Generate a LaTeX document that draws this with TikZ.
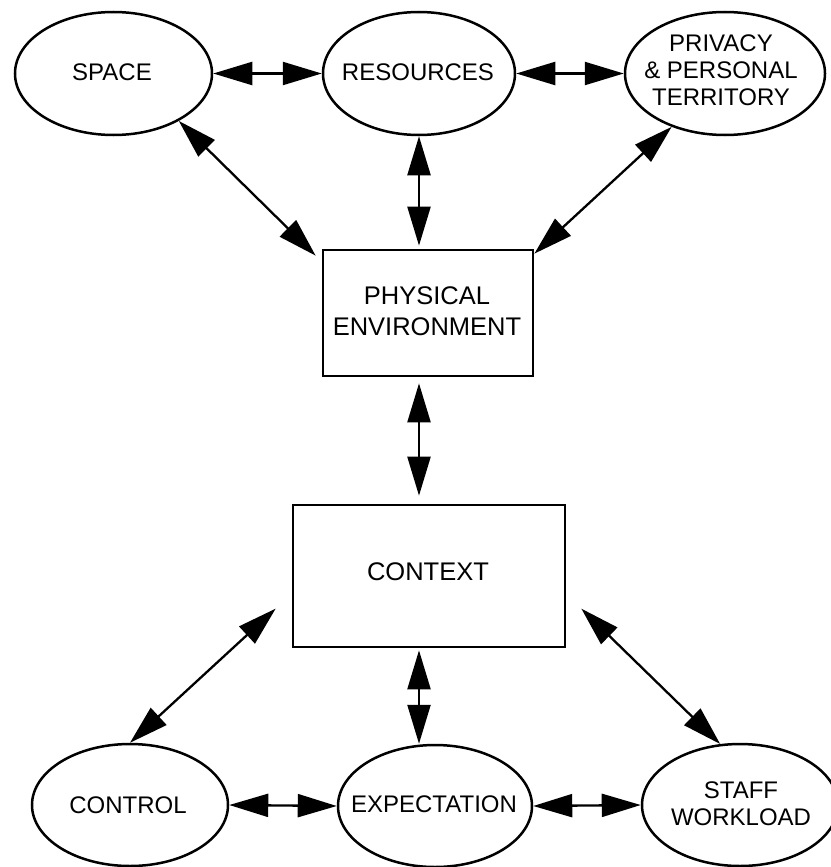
\documentclass[tikz,border=0pt]{standalone}
\usepackage{fontspec}
\setmainfont{Liberation Sans}
\usetikzlibrary{shapes.geometric,arrows.meta}
\begin{document}
\begin{tikzpicture}[x=1pt,y=-1pt,
 oval/.style={ellipse,draw,line width=2.5pt,inner sep=0pt,minimum width=#1,minimum height=123pt},
 box/.style={draw,line width=2.7pt,rectangle,inner sep=0pt},
 txt/.style={align=center,inner sep=0pt,font=\fontsize{24pt}{27pt}\selectfont},
 btxt/.style={align=center,inner sep=0pt,font=\fontsize{25.5pt}{31pt}\selectfont},
 link/.style={line width=2.3pt,{Triangle[length=39pt,width=23pt]}-{Triangle[length=39pt,width=23pt]}}]
\useasboundingbox[fill=white] (0,0) rectangle (830,867);
% top row
\node[oval=197pt] (space) at (113.5,73.5) {};
\node[txt] (spacet) at (112,72.5) {SPACE};
\node[oval=192pt] (res) at (419,73.5) {};
\node[txt] (rest) at (418,72.5) {RESOURCES};
\node[oval=200pt] (priv) at (725,73.5) {};
\node[txt] (privt) at (721,70) {PRIVACY\\\& PERSONAL\\TERRITORY};
% boxes
\node[box,minimum width=210pt,minimum height=126pt] (phys) at (428,313) {};
\node[btxt] (physt) at (427,311) {PHYSICAL\\ENVIRONMENT};
\node[box,minimum width=272pt,minimum height=142pt] (ctx) at (429,576) {};
\node[btxt] (ctxt) at (428,572) {CONTEXT};
% bottom row
\node[oval=196pt,minimum height=122pt] (control) at (130,805) {};
\node[txt] (controlt) at (128,805) {CONTROL};
\node[oval=194pt,minimum height=122pt] (exp) at (435,806) {};
\node[txt] (expt) at (434,804) {EXPECTATION};
\node[oval=196pt,minimum height=122pt] (staff) at (740,805) {};
\node[txt] (stafft) at (741,804) {STAFF\\WORKLOAD};
% free ends
\coordinate (cl) at ([shift={(-16,105)}]ctx.north west);
\coordinate (cr) at ([shift={(15,105)}]ctx.north east);
% connectors
\draw[link] (space.east) -- (res.west);
\draw[link] (res.east) -- (priv.west);
\draw[link] (space.-36) -- ([shift={(-6,7)}]phys.north west);
\draw[link] (res.south) -- ([shift={(0,-3)}]res.south |- phys.north);
\draw[link] (priv.225) -- ([shift={(0,5)}]phys.north east);
\draw[link,shorten <=6pt,shorten >=8pt] (phys.south -| res.south) -- (ctx.north -| res.south);
\draw[link] (cl) -- (control.north);
\draw[link,shorten <=2pt] (ctx.south -| res.south) -- (exp.north -| res.south);
\draw[link] (cr) -- (staff.108);
\draw[link] (control.east) -- (exp.west);
\draw[link] (exp.east) -- (staff.west);
\end{tikzpicture}
\end{document}
